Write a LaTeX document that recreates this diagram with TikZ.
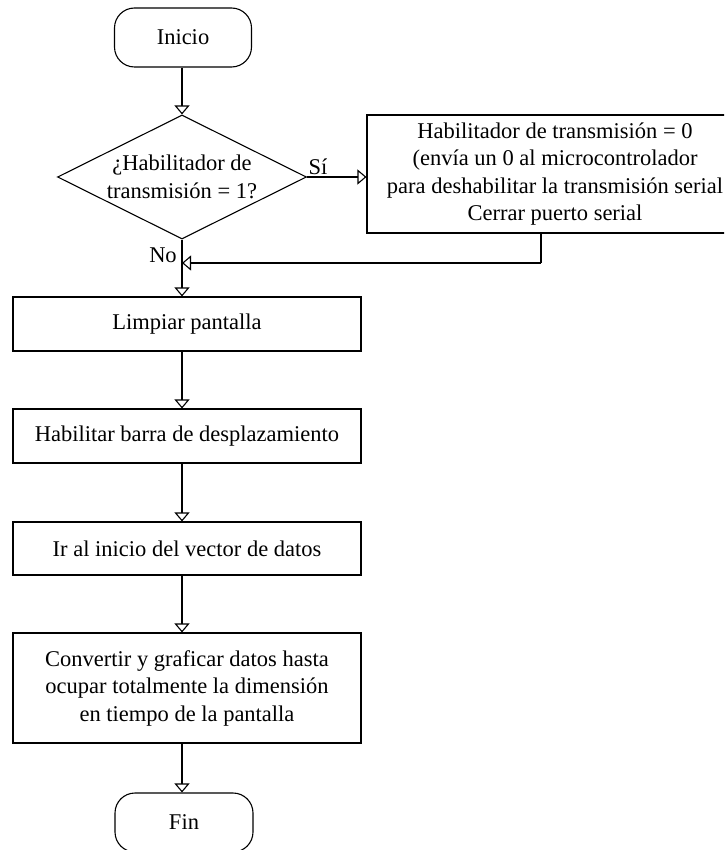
\documentclass[tikz,border=0pt]{standalone}
\usepackage{fontspec}
\setmainfont{Liberation Serif}
\usetikzlibrary{shapes.geometric, arrows.meta}

\begin{document}
\begin{tikzpicture}[x=1pt, y=-1pt, line width=1.1pt,
    font=\fontsize{22.5}{27.5}\selectfont,
    % Define the styles for the flowchart shapes
    terminal/.style={draw, rectangle, rounded corners=20pt, minimum width=137pt, minimum height=59pt, inner sep=0pt},
    process/.style={draw, rectangle, align=center, inner sep=0pt, minimum width=348pt},
    decision/.style={draw, diamond, minimum width=249pt, minimum height=124pt, inner sep=0pt},
    % Define the style for the open arrow heads
    flow/.style={-{Triangle[open, width=15pt, length=9pt]}}
]

% Fix the size of the picture
\useasboundingbox (0,0) rectangle (724,850);
\clip (0,0) rectangle (724,850);

% Define the points of the connectors
\coordinate (axis) at (182,0);
\coordinate (merge) at (182,263);
\coordinate (ret) at (541,263);

% Place the shapes
\node[terminal] (inicio) at (183,37.5) {Inicio};
\node[decision, label={[align=center]center:{¿Habilitador de\\transmisión = 1?}}] (dec) at (182,177) {};
\node[process, minimum width=376pt, minimum height=118pt] (cerrar) at (555,174)
    {Habilitador de transmisión = 0\\(envía un 0 al microcontrolador\\para deshabilitar la transmisión serial\\Cerrar puerto serial};
\node[process, minimum height=54pt] (limpiar) at (187,324) {Limpiar pantalla};
\node[process, minimum height=54pt] (barra) at (187,436) {Habilitar barra de desplazamiento};
\node[process, minimum height=53pt] (vector) at (187,548.5) {Ir al inicio del vector de datos};
\node[process, minimum height=110pt] (graficar) at (187,688)
    {Convertir y graficar datos hasta\\ocupar totalmente la dimensión\\en tiempo de la pantalla};
\node[terminal, minimum width=138pt] (fin) at (184,822.5) {Fin};

% Add the branch labels
\node (si) at (318,167) {Sí};
\node (no) at (163,255) {No};

% Draw the connectors
\draw[flow] (inicio.south -| axis) -- (dec.north);
\draw[flow] (dec.east) -- (cerrar.west |- dec.east);
\draw (cerrar.south -| ret) -- (ret);
\draw[flow] (ret) -- (merge);
\draw[flow] (dec.south) -- (limpiar.north -| axis);
\draw[flow] (limpiar.south -| axis) -- (barra.north -| axis);
\draw[flow] (barra.south -| axis) -- (vector.north -| axis);
\draw[flow] (vector.south -| axis) -- (graficar.north -| axis);
\draw[flow] (graficar.south -| axis) -- (fin.north -| axis);

\end{tikzpicture}
\end{document}
